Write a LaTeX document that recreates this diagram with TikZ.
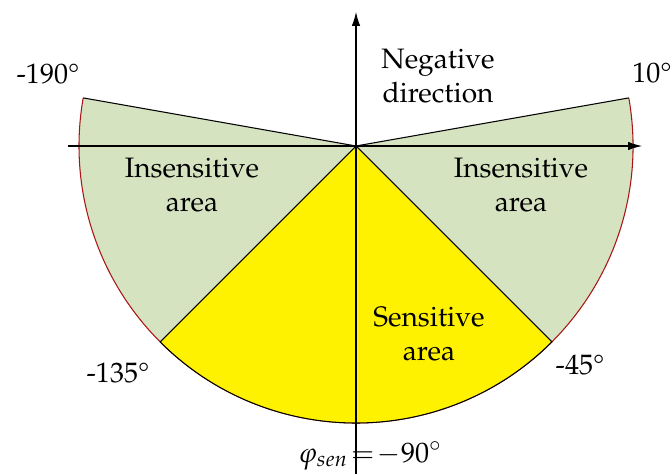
\documentclass[tikz,border=0pt]{standalone}
\usepackage[T1]{fontenc}
\usepackage{mathpazo}
\usetikzlibrary{arrows.meta}
\definecolor{insens}{RGB}{214,227,193}
\definecolor{rim}{RGB}{170,20,20}

\begin{document}
\begin{tikzpicture}[x=0.02cm,y=0.02cm,
  every node/.style={font=\fontsize{16}{19}\selectfont, align=center, inner sep=1pt},
  axis/.style={line width=0.6pt, -{Latex[length=0.28cm,width=0.17cm]}}]
\useasboundingbox (0,0) rectangle (672,474);
\coordinate (O) at (356,328);
\foreach \a in {10,-45,-135,-190} \path (O) ++(\a:277) coordinate (p\a);
% insensitive part, whole half disc
\fill[insens] (O) -- (p10) arc[start angle=10,end angle=-190,radius=277] -- cycle;
\draw[rim, line width=0.6pt] (p10) arc[start angle=10,end angle=-190,radius=277];
\draw[line width=0.6pt] (p-190) -- (O) -- (p10);
% sensitive part
\filldraw[fill=yellow, line width=0.6pt] (O) -- (p-45) arc[start angle=-45,end angle=-135,radius=277] -- cycle;
% axes
\coordinate (xl) at (68,328); \coordinate (xr) at (642,328);
\coordinate (yb) at (356,0); \coordinate (yt) at (356,462);
\draw[axis] (xl) -- (xr);
\draw[axis] (yb) -- (yt);
% labels
\node (neg) at (438,398) {Negative\\direction};
\node (lins) at (192,289) {Insensitive\\area};
\node (rins) at (521,289) {Insensitive\\area};
\node (sens) at (429,140) {Sensitive\\area};
\node (a10) at (652,401) {10\textdegree};
\node (a190) at (48,400) {-190\textdegree};
\node (a135) at (118,101) {-135\textdegree};
\node (a45) at (580,109) {-45\textdegree};
\node (phi) at (370,18) {$\varphi_{sen}\!=\!-90^\circ$};
\end{tikzpicture}
\end{document}
